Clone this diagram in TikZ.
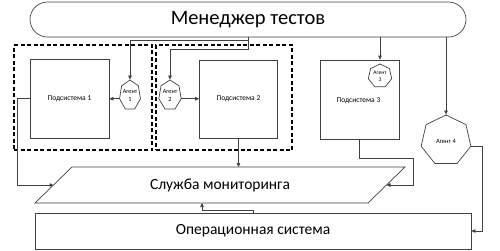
\documentclass[tikz,border=0pt]{standalone}
\usepackage{fontspec}
\setmainfont{Carlito}
\usetikzlibrary{arrows.meta,shapes.geometric,calc}
\begin{document}
\begin{tikzpicture}[x=1pt,y=-1pt,
  ln/.style={draw=black!75,line width=0.7pt},
  arr/.style={ln,-{Triangle[length=4pt,width=3.5pt]}},
  mgr/.style={ln,rounded corners=17.5pt,minimum width=436pt,minimum height=35pt,inner sep=0pt,font=\fontsize{20.5}{23}\selectfont},
  subbox/.style={ln,minimum width=79pt,minimum height=79pt,inner sep=0pt,font=\fontsize{7.5}{9}\selectfont},
  dbox/.style={draw=black,line width=1.2pt,dash pattern=on 4pt off 2.5pt,inner sep=0pt},
  agent/.style={ln,regular polygon,regular polygon sides=7,inner sep=0pt},
  atext/.style={align=center,inner sep=0pt,font=\fontsize{6.2}{7.5}\selectfont},
  bigtext/.style={inner sep=0pt,font=\fontsize{15.5}{18}\selectfont}]
\useasboundingbox (0,0) rectangle (500,250);

% manager
\node[mgr] (m) at (248,19.5) {Менеджер тестов};

% dashed groups
\node[dbox,minimum width=138pt,minimum height=105pt] (g1) at (83,97.5) {};
\node[dbox,minimum width=136pt,minimum height=105pt] (g2) at (224,97.5) {};

% subsystems
\node[subbox] (s1) at (69.5,98.5) {Подсистема 1};
\node[subbox,minimum width=78pt,minimum height=78pt] (s2) at (238.5,99) {Подсистема 2};
\node[subbox] (s3) at (359.5,99.5) {};
\node[inner sep=0pt,font=\fontsize{7.5}{9}\selectfont] (t3s) at (358.5,101) {Подсистема 3};

% agents
\begin{scope}[shift={(130,95.3)}]
  \node[agent,minimum size=30.6pt,xscale=0.7] (a1) at (0,0) {};
\end{scope}
\begin{scope}[shift={(170,95.3)}]
  \node[agent,minimum size=30.6pt,xscale=0.75] (a2) at (0,0) {};
\end{scope}
\node[agent,minimum size=24pt] (a3) at (380,76) {};
\node[agent,minimum size=51pt] (a4) at (446,140.5) {};
\node[atext] (t1) at (a1.center) {Агент\\1};
\node[atext] (t2) at (a2.center) {Агент\\2};
\node[atext,font=\fontsize{5.6}{6.8}\selectfont] (t3) at (a3.center) {Агент\\3};
\node[atext,font=\fontsize{6.5}{8}\selectfont] (t4) at ($(a4.center)+(0,1)$) {Агент 4};

% monitoring service (parallelogram)
\coordinate (ptl) at (72,167);
\coordinate (ptr) at (405,167);
\coordinate (pbr) at (368,203);
\coordinate (pbl) at (35,203);
\draw[ln] (ptl) -- (ptr) -- (pbr) -- (pbl) -- cycle;
\coordinate (ml) at ($(ptl)!0.5!(pbl)$);
\coordinate (mr) at ($(ptr)!0.5!(pbr)$);
\coordinate (mb) at (202,203);
\node[bigtext] (mon) at (220,185) {Служба мониторинга};

% operating system
\node[ln,minimum width=436pt,minimum height=36pt,inner sep=0pt,font=\fontsize{15.5}{18}\selectfont] (os) at (253,231) {Операционная система};
\coordinate (o1) at (253,213);
\coordinate (c3) at (413,158);

% connectors from manager
\draw[arr] (m.south) -- ++(0,3) -| (a1.corner 1);
\draw[arr] (m.south) -- ++(0,12) -| (a2.corner 1);
\draw[arr] (a3.corner 1 |- m.south) -- (a3.corner 1 |- s3.north);
\draw[arr] (a4.corner 1 |- m.south) -- (a4.corner 1);

% agents to subsystems
\draw[arr] (a1.corner 3) -- (a1.corner 3 -| s1.east);
\draw[arr] (a2.corner 6) -- (a2.corner 6 -| s2.west);

% subsystems to monitoring
\draw[arr] (s1.west) -- ++(-12,0) |- (ml);
\draw[arr] (s2.south) -- (s2.south |- ptl);
\draw[arr] (s3.south) |- (c3) |- (mr);

% agent 4 to OS
\draw[arr] (a4.corner 6) -- ++(11,0) |- (os.east);

% OS to monitoring
\draw[arr] (o1) -- ++(0,-3) -| (mb);
\end{tikzpicture}
\end{document}
